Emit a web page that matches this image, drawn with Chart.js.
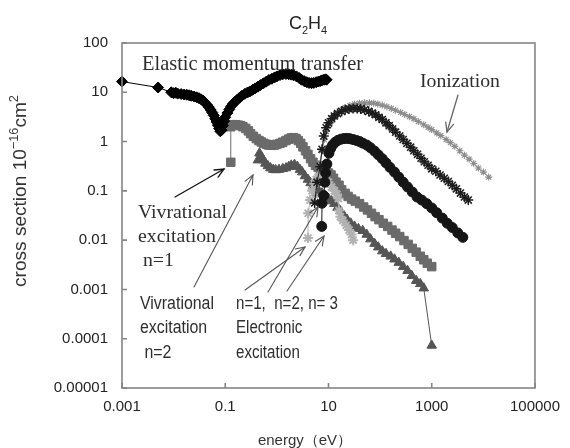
<!DOCTYPE html>
<html><head><meta charset="utf-8">
<script src="https://cdn.jsdelivr.net/npm/chart.js@4/dist/chart.umd.min.js"></script>
<style>html,body{margin:0;padding:0;background:#fff}</style>
</head><body>
<canvas id="c" width="570" height="448" style="width:570px;height:448px"></canvas>
<script>
// ---- data (energy in eV, cross section in 1e-16 cm^2) ----
const xTickValues = [0.001, 0.1, 10, 1000, 100000];
const xTickLabels = ['0.001', '0.1', '10', '1000', '100000'];
const yTickValues = [0.00001, 0.0001, 0.001, 0.01, 0.1, 1, 10, 100];
const yTickLabels = ['0.00001', '0.0001', '0.001', '0.01', '0.1', '1', '10', '100'];

const elasticE = [0.001,0.005,0.009,0.01,0.011,0.012,0.014,0.016,0.018,0.02,0.022,0.025,0.028,0.031,0.034,0.037,0.04,0.044,0.048,0.052,0.056,0.06,0.064,0.068,0.072,0.076,0.08,0.085,0.09,0.095,0.1,0.11,0.12,0.13,0.14,0.155,0.17,0.19,0.21,0.24,0.27,0.3,0.34,0.38,0.43,0.48,0.55,0.62,0.7,0.8,0.9,1.0,1.15,1.3,1.5,1.7,1.9,2.1,2.4,2.7,3.0,3.4,3.8,4.2,4.7,5.2,5.8,6.4,7,7.6,8.2,8.8,9.2];
const elasticCS = [16.5,12.5,10,9.6,9.8,9.4,9.2,9.0,8.9,8.7,8.5,8.2,7.9,7.6,7.2,6.8,6.3,5.6,5.0,4.4,3.9,3.4,2.9,2.5,2.15,1.85,1.62,1.7,2.1,2.6,3.1,3.8,4.5,5.2,5.8,6.4,7.0,7.8,8.5,9.3,9.9,10.4,11.2,12,13,14,15.2,16.4,17.8,18.8,20,21,22.3,23.2,23.5,23.2,22.8,22.2,21,19.5,18,16.8,16,15.5,15.3,15.5,16,16.5,17,17.5,18,18.3,18];

const vib1E = [0.128,0.128,0.14,0.16,0.18,0.2,0.22,0.25,0.28,0.31,0.35,0.4,0.45,0.5,0.56,0.63,0.7,0.8,0.9,1.0,1.15,1.3,1.5,1.7,1.9,2.1,2.35,2.6,2.9,3.2,3.6,4.0,4.5,5,5.6,6.3,7,8,9,10,11.2,12.5,14,16,18,21,24,28,33,40,48,57,68,80,95,115,140,170,200,240,290,350,420,500,600,700,820,1000];
const vib1CS = [0.38,2.0,2.2,2.2,2.15,2.1,2.0,1.85,1.65,1.45,1.28,1.15,1.05,0.98,0.92,0.88,0.85,0.84,0.85,0.88,0.92,0.97,1.05,1.12,1.18,1.2,1.15,1.05,0.92,0.78,0.65,0.55,0.45,0.38,0.33,0.3,0.28,0.27,0.25,0.23,0.21,0.18,0.15,0.13,0.105,0.089,0.077,0.068,0.062,0.055,0.047,0.041,0.035,0.03,0.026,0.022,0.019,0.016,0.0138,0.0118,0.0098,0.0082,0.0068,0.0057,0.0047,0.004,0.0034,0.0029];

const vib2E = [0.43,0.46,0.5,0.55,0.6,0.67,0.75,0.85,0.95,1.1,1.3,1.5,1.7,1.9,2.2,2.5,2.8,3.1,3.5,4,4.5,5,5.7,6.5,7.5,8.5,10,11.5,13,15,17,20,23,27,32,38,46,55,65,78,92,110,130,160,190,230,280,340,410,500,600,700,1000];
const vib2CS = [0.42,0.58,0.5,0.42,0.36,0.32,0.29,0.27,0.265,0.27,0.28,0.29,0.31,0.33,0.34,0.31,0.27,0.24,0.2,0.17,0.145,0.125,0.11,0.1,0.09,0.08,0.07,0.062,0.055,0.046,0.039,0.031,0.026,0.022,0.019,0.017,0.0155,0.013,0.0105,0.0085,0.0072,0.006,0.0053,0.0047,0.0041,0.0035,0.0029,0.0024,0.0019,0.0015,0.0013,0.00106,0.000073];

const elec1E = [4.0,4.05,4.4,4.8,5.3,5.8,6.3,7,8,9,10,11.5,13,14.5,15.5,16,17,19,22,25,28,30];
const elec1CS = [0.011,0.035,0.065,0.1,0.14,0.17,0.19,0.2,0.19,0.17,0.15,0.12,0.1,0.085,0.07,0.04,0.03,0.025,0.02,0.016,0.013,0.01];

const elec2E = [5.4,6,6.9,7.5,8.1,9,10,11.5,13,15,18,21,25,30,36,42,50,60,70,82,95,110,130,150,175,200,240,280,330,390,450,530,620,720,850,1000,1200,1450,1750,2100,2500,3000,3600,4300,5100];
const elec2CS = [0.057,0.15,0.31,0.7,1.3,1.9,2.4,2.9,3.3,3.7,4.1,4.4,4.6,4.7,4.7,4.6,4.4,4.1,3.8,3.5,3.1,2.8,2.4,2.1,1.8,1.55,1.3,1.1,0.92,0.77,0.65,0.55,0.46,0.39,0.33,0.28,0.25,0.21,0.18,0.155,0.13,0.11,0.09,0.075,0.065];

const elec3E = [7.4,7.5,8.1,8.5,8.8,9.3,10.2,11,12,13.5,15.3,17.5,20,23,26,30,35,40,46,55,65,78,92,110,130,155,190,230,280,340,420,520,640,800,1000,1250,1600,2000,2500,3200,4000];
const elec3CS = [0.019,0.056,0.08,0.15,0.23,0.35,0.58,0.72,0.85,0.97,1.06,1.12,1.15,1.16,1.14,1.1,1.05,1.0,0.93,0.85,0.75,0.64,0.54,0.45,0.37,0.3,0.24,0.19,0.15,0.12,0.095,0.075,0.065,0.055,0.045,0.036,0.028,0.022,0.018,0.014,0.0114];

const ionE = [5.5,6.2,6.8,7.5,8.3,9.2,10.5,12,14,17,21,26,32,40,50,62,75,90,110,135,165,200,250,300,370,450,550,700,850,1000,1250,1500,1900,2300,2800,3500,4300,5300,6500,8000,10000,12700];
const ionCS = [0.08,0.2,0.36,0.65,1.1,1.6,2.2,2.9,3.6,4.3,4.9,5.4,5.8,6.0,6.1,6.1,6.0,5.8,5.5,5.1,4.7,4.3,3.9,3.55,3.2,2.9,2.55,2.2,1.95,1.75,1.5,1.32,1.1,0.95,0.8,0.65,0.53,0.44,0.36,0.29,0.24,0.19];

// ---- helpers ----
const pts = (xs, ys) => xs.map((x, i) => ({x: x, y: ys[i]}));
function ds(label, xs, ys, color, style, r, bw) {
  return {
    label: label, data: pts(xs, ys), showLine: true,
    borderColor: color, backgroundColor: color, borderWidth: 1,
    pointStyle: style, pointRadius: r, pointHoverRadius: r,
    pointBorderColor: color, pointBackgroundColor: color,
    pointBorderWidth: bw, clip: false
  };
}

function fitSize(ctx, text, width, family) {
  ctx.font = '20px ' + family;
  return 20 * width / ctx.measureText(text).width;
}
function block(ctx, lines, x, y0, dy, size, family, color) {
  ctx.font = size.toFixed(2) + 'px ' + family;
  ctx.fillStyle = color;
  ctx.textAlign = 'left';
  ctx.textBaseline = 'middle';
  lines.forEach((t, i) => ctx.fillText(t[0], x + (t[1] || 0), y0 + i * dy));
}
// text block with fixed glyph height, squeezed horizontally so the first line has the given width
function squeezed(ctx, lines, x, y0, dy, size, width, family, color) {
  ctx.save();
  ctx.font = size + 'px ' + family;
  const sx = width / ctx.measureText(lines[0]).width;
  ctx.translate(x, y0);
  ctx.scale(sx, 1);
  ctx.fillStyle = color;
  ctx.textAlign = 'left';
  ctx.textBaseline = 'middle';
  lines.forEach((t, i) => ctx.fillText(t, 0, i * dy));
  ctx.restore();
}
function arrow(ctx, x1, y1, x2, y2, color, lw, head) {
  ctx.save();
  ctx.strokeStyle = color; ctx.lineWidth = lw; ctx.lineCap = 'round';
  ctx.beginPath(); ctx.moveTo(x1, y1); ctx.lineTo(x2, y2); ctx.stroke();
  const a = Math.atan2(y2 - y1, x2 - x1);
  const h = head || 9, sp = 0.42;
  ctx.beginPath();
  ctx.moveTo(x2 - h * Math.cos(a - sp), y2 - h * Math.sin(a - sp));
  ctx.lineTo(x2, y2);
  ctx.lineTo(x2 - h * Math.cos(a + sp), y2 - h * Math.sin(a + sp));
  ctx.stroke();
  ctx.restore();
}

const decor = {
  id: 'decor',
  afterDraw(chart) {
    const ctx = chart.ctx;
    const a = chart.chartArea;
    const xs = chart.scales.x, ys = chart.scales.y;
    ctx.save();
    // plot frame
    ctx.strokeStyle = '#858585'; ctx.lineWidth = 1.6;
    ctx.strokeRect(a.left, a.top, a.right - a.left, a.bottom - a.top);
    // inward ticks
    ctx.beginPath();
    yTickValues.forEach(v => { const p = ys.getPixelForValue(v); ctx.moveTo(a.left, p); ctx.lineTo(a.left + 5, p); });
    xTickValues.forEach(v => { const p = xs.getPixelForValue(v); ctx.moveTo(p, a.bottom); ctx.lineTo(p, a.bottom - 5); });
    ctx.stroke();

    const sans = '"Liberation Sans", Arial, sans-serif';
    const serif = '"Liberation Serif", "Times New Roman", serif';

    // title C2H4
    ctx.fillStyle = '#222'; ctx.textBaseline = 'alphabetic'; ctx.textAlign = 'left';
    const tparts = [['C', 0, 18], ['2', 5, 11], ['H', 0, 18], ['4', 5, 11]];
    let tw = 0;
    tparts.forEach(p => { ctx.font = p[2] + 'px ' + sans; tw += ctx.measureText(p[0]).width; });
    let tx = 308 - tw / 2;
    tparts.forEach(p => { ctx.font = p[2] + 'px ' + sans; ctx.fillText(p[0], tx, 29 + p[1]); tx += ctx.measureText(p[0]).width; });

    // y axis title
    ctx.save();
    ctx.translate(21, 191); ctx.rotate(-Math.PI / 2);
    const yparts = [['cross section 10', 0, 15], ['\u221216', -6, 10], ['cm', 0, 15], ['2', -6, 10]];
    let yw = 0;
    yparts.forEach(p => { ctx.font = p[2] + 'px ' + sans; yw += ctx.measureText(p[0]).width; });
    const k = 192 / yw;
    let yx = -96;
    ctx.fillStyle = '#333';
    yparts.forEach(p => { ctx.font = (p[2] * k).toFixed(2) + 'px ' + sans; ctx.fillText(p[0], yx, 5 + p[1] * k); yx += ctx.measureText(p[0]).width; });
    ctx.restore();

    // x axis title
    ctx.font = '15px ' + sans; ctx.fillStyle = '#333'; ctx.textAlign = 'center'; ctx.textBaseline = 'middle';
    ctx.fillText('energy\uFF08eV\uFF09', 305, 441);

    // annotations
    const dark = '#2e2e2e';
    block(ctx, [['Elastic momentum transfer']], 142, 65, 0, fitSize(ctx, 'Elastic momentum transfer', 221, serif), serif, dark);
    block(ctx, [['Ionization']], 420, 82, 0, fitSize(ctx, 'Ionization', 80, serif), serif, dark);
    arrow(ctx, 458, 95, 447, 132, '#666', 1.3, 10);

    block(ctx, [['Vivrational'], ['excitation'], [' n=1']], 138, 213, 24, fitSize(ctx, 'Vivrational', 89, serif), serif, dark);
    arrow(ctx, 175, 197, 224, 169, '#111', 1.3, 10);
    arrow(ctx, 194, 287, 253, 175, '#555', 1.1, 10);

    squeezed(ctx, ['Vivrational', 'excitation', ' n=2'], 140, 304, 24.5, 17.5, 74, sans, dark);
    squeezed(ctx, ['n=1,  n=2, n= 3', 'Electronic', 'excitation'], 236, 304, 24.5, 17.5, 102, sans, dark);
    arrow(ctx, 245, 290, 305, 247, '#555', 1.1, 10);
    arrow(ctx, 268, 292, 318, 207, '#555', 1.1, 10);
    arrow(ctx, 287, 291, 324, 236, '#555', 1.1, 10);
    ctx.restore();
  }
};

new Chart(document.getElementById('c'), {
  type: 'scatter',
  data: {
    datasets: [
      ds('Elastic momentum transfer', elasticE, elasticCS, '#000000', 'rectRot', 5.5, 1),
      ds('Electronic n=3', elec3E, elec3CS, '#151515', 'circle', 5, 1),
      ds('Electronic n=2', elec2E, elec2CS, '#1c1c1c', 'star', 5, 1.5),
      ds('Electronic n=1', elec1E, elec1CS, '#b2b2b2', 'star', 5, 2),
      ds('Ionization', ionE, ionCS, '#8c8c8c', 'star', 3.5, 1.1),
      ds('Vibrational n=1', vib1E, vib1CS, '#6b6b6b', 'rect', 6, 1),
      ds('Vibrational n=2', vib2E, vib2CS, '#555555', 'triangle', 5.5, 1)
    ]
  },
  options: {
    responsive: false, animation: false, devicePixelRatio: 1,
    layout: { padding: { top: 43, right: 28, left: 0, bottom: 0 } },
    plugins: { legend: { display: false }, tooltip: { enabled: false }, title: { display: false } },
    scales: {
      x: {
        type: 'logarithmic', min: 0.001, max: 100000,
        grid: { display: false, drawTicks: false }, border: { display: false },
        afterBuildTicks: s => { s.ticks = xTickValues.map(v => ({ value: v })); },
        afterFit: s => { s.height = 60; },
        ticks: {
          autoSkip: false, maxRotation: 0, padding: 10, color: '#222',
          font: { family: '"Liberation Sans", Arial, sans-serif', size: 15 },
          callback: (v) => { const i = xTickValues.indexOf(v); return i >= 0 ? xTickLabels[i] : ''; }
        }
      },
      y: {
        type: 'logarithmic', min: 0.00001, max: 100,
        grid: { display: false, drawTicks: false }, border: { display: false },
        afterBuildTicks: s => { s.ticks = yTickValues.map(v => ({ value: v })); },
        afterFit: s => { s.width = 122; },
        ticks: {
          autoSkip: false, padding: 14, color: '#222',
          font: { family: '"Liberation Sans", Arial, sans-serif', size: 15 },
          callback: (v) => { const i = yTickValues.indexOf(v); return i >= 0 ? yTickLabels[i] : ''; }
        }
      }
    }
  },
  plugins: [decor]
});
</script>
</body></html>
